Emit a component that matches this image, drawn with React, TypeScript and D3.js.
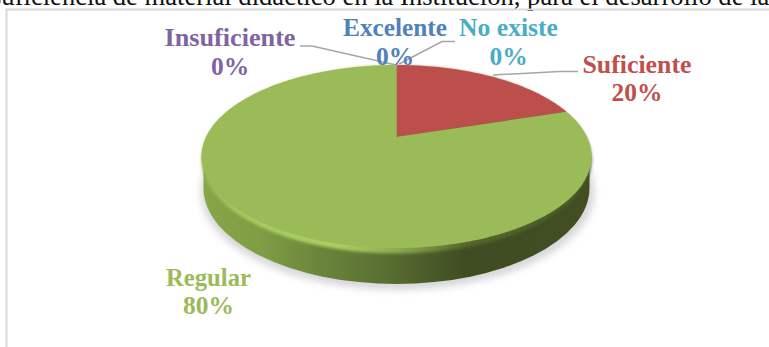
import React from "react";
import * as d3 from "d3";

const categories = ["Excelente", "Suficiente", "Regular", "Insuficiente", "No existe"];
const shares = [0, 20, 80, 0, 0];
const colors = ["#4F81BD", "#BC4F4C", "#9BBB59", "#8064A2", "#4BACC6"];
const labelColors = ["#4F81BD", "#C0504D", "#9BBB59", "#8064A2", "#4BACC6"];
const heading = "suficiencia de material didáctico en la Institución, para el desarrollo de la";

const WIDTH = 769;
const HEIGHT = 347;

// Disc geometry: the rim is an ellipse, and perspective pushes the hub above its middle.
const CX = 396.5;
const RIM_CY = 156.5;
const RIM_RX = 195;
const RIM_RY = 91.5;
const HUB_Y = 137;
const DEPTH_CY = 188;

// Label anchors per category: centre x, first baseline, name width.
const labelCentreX = [395, 637, 208.5, 230, 508.5];
const labelBaseline = [36, 72.5, 285.5, 46, 36];
const labelNameWidth = [104, 109, 85, 131, 99];

// Leader polylines per category; an empty list means no leader.
const leaders: [number, number][][] = [
  [],
  [[578, 71.5], [560, 71.5], [493, 75]],
  [],
  [[300, 46], [312, 46], [396, 65]],
  [[455, 41.5], [442, 41.5], [399, 64]],
];

// Perspective map from the unit circle onto the rim ellipse, keeping the hub at HUB_Y.
const hubOffset = (HUB_Y - RIM_CY) / RIM_RY;
const project = (angle: number): [number, number] => {
  const u = Math.sin(angle);
  const v = -Math.cos(angle);
  const w = 1 + hubOffset * v;
  const xs = Math.sqrt(1 - hubOffset * hubOffset);
  return [CX + (RIM_RX * xs * u) / w, RIM_CY + (RIM_RY * (v + hubOffset)) / w];
};

const lineGen = d3.line();
const slices = d3.pie<number>().sort(null).value((d) => d)(shares);
const slicePath = (start: number, end: number) => {
  const steps = Math.max(2, Math.ceil((end - start) / 0.02));
  const arcPoints = d3.range(steps + 1).map((i) => project(start + ((end - start) * i) / steps));
  return lineGen([[CX, HUB_Y], ...arcPoints])! + "Z";
};

export default function App() {
  return (
    <svg
      width={WIDTH}
      height={HEIGHT}
      viewBox={`0 0 ${WIDTH} ${HEIGHT}`}
      style={{ position: "absolute", left: 0, top: 0, background: "#fff" }}
    >
      <defs>
        <linearGradient id="wall" gradientUnits="userSpaceOnUse" x1={202} x2={591} y1={0} y2={0}>
          <stop offset="0" stopColor="#86a648" />
          <stop offset="0.15" stopColor="#7f9d44" />
          <stop offset="0.32" stopColor="#68833a" />
          <stop offset="0.47" stopColor="#5a6f32" />
          <stop offset="0.68" stopColor="#3f4c22" />
          <stop offset="1" stopColor="#424e22" />
        </linearGradient>
        <linearGradient id="lip" gradientUnits="userSpaceOnUse" x1={202} x2={591} y1={0} y2={0}>
          <stop offset="0" stopColor="#93b351" />
          <stop offset="0.1" stopColor="#a6c95f" />
          <stop offset="0.35" stopColor="#abd062" />
          <stop offset="0.5" stopColor="#8dab50" />
          <stop offset="0.68" stopColor="#55672c" />
          <stop offset="1" stopColor="#4a5826" />
        </linearGradient>
        <filter id="soft" x="-10%" y="-10%" width="120%" height="120%">
          <feGaussianBlur stdDeviation="3.5" />
        </filter>
        <filter id="edge" x="-5%" y="-5%" width="110%" height="110%">
          <feGaussianBlur stdDeviation="1.4" />
        </filter>
        <filter id="face" x="-5%" y="-5%" width="110%" height="110%">
          <feGaussianBlur stdDeviation="0.7" />
        </filter>
      </defs>

      <text
        x={-9}
        y={4.5}
        fontFamily="'Liberation Serif', serif"
        fontSize={26.6}
        fill="#111"
      >
        {heading}
      </text>

      <path d={`M${WIDTH},9.5H6.5V${HEIGHT}`} fill="none" stroke="#d9d9d9" strokeWidth={2} />

      {/* Drop shadow, side wall, rounded lip, then the top face */}
      <ellipse cx={CX + 1} cy={DEPTH_CY + 4} rx={197} ry={98} fill="#bdbdc2" opacity={0.6} filter="url(#soft)" />
      <path
        d={`M${CX - 193},${RIM_CY + 4}V${DEPTH_CY}A193,96 0 0 0 ${CX + 193},${DEPTH_CY}V${RIM_CY + 4}Z`}
        fill="url(#wall)"
      />
      <ellipse cx={CX} cy={RIM_CY + 3} rx={RIM_RX} ry={RIM_RY + 2.5} fill="url(#lip)" filter="url(#edge)" />
      <g filter="url(#face)">
        {slices.map((s, i) =>
          s.endAngle > s.startAngle ? (
            <path key={categories[i]} d={slicePath(s.startAngle, s.endAngle)} fill={colors[i]} />
          ) : null
        )}
      </g>

      {leaders.map((pts, i) =>
        pts.length ? (
          <path key={categories[i]} d={lineGen(pts)!} fill="none" stroke="#a6a6a6" strokeWidth={1.5} />
        ) : null
      )}

      {categories.map((name, i) => (
        <g
          key={name}
          fontFamily="'Liberation Serif', serif"
          fontWeight={700}
          fontSize={25.5}
          fill={labelColors[i]}
          textAnchor="middle"
        >
          <text
            x={labelCentreX[i]}
            y={labelBaseline[i]}
            textLength={labelNameWidth[i]}
            lengthAdjust="spacingAndGlyphs"
          >
            {name}
          </text>
          <text x={labelCentreX[i]} y={labelBaseline[i] + 28.5}>
            {shares[i]}%
          </text>
        </g>
      ))}
    </svg>
  );
}
